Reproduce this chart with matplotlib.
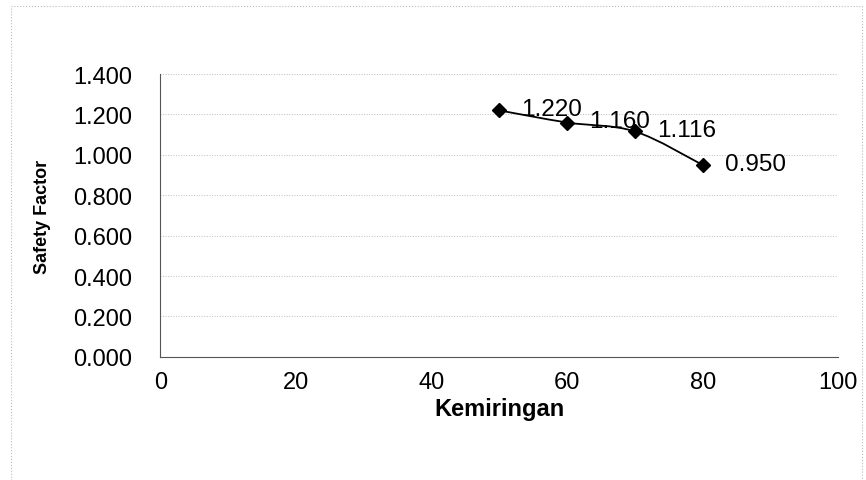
import matplotlib.pyplot as plt
from matplotlib.path import Path
from matplotlib.patches import PathPatch

kemiringan = [50, 60, 70, 80]
safety_factor = [1.220, 1.160, 1.116, 0.950]
point_labels = ['1.220', '1.160', '1.116', '0.950']
x_ticks = [0, 20, 40, 60, 80, 100]
y_ticks = [0.0, 0.2, 0.4, 0.6, 0.8, 1.0, 1.2, 1.4]

plt.rcParams['font.family'] = ['Liberation Sans', 'DejaVu Sans']


# Smoothed line through the points (Catmull-Rom converted to cubic Bezier segments)
def smooth_path(xs, ys, t=1.0 / 6):
    verts = [(xs[0], ys[0])]
    codes = [Path.MOVETO]
    n = len(xs)
    for i in range(n - 1):
        x0, y0 = (xs[i - 1], ys[i - 1]) if i > 0 else (xs[i], ys[i])
        x3, y3 = (xs[i + 2], ys[i + 2]) if i + 2 < n else (xs[i + 1], ys[i + 1])
        c1 = (xs[i] + (xs[i + 1] - x0) * t, ys[i] + (ys[i + 1] - y0) * t)
        c2 = (xs[i + 1] - (x3 - xs[i]) * t, ys[i + 1] - (y3 - ys[i]) * t)
        verts += [c1, c2, (xs[i + 1], ys[i + 1])]
        codes += [Path.CURVE4] * 3
    return Path(verts, codes)


fig = plt.figure(figsize=(8.66, 4.81), dpi=100)
ax = fig.add_axes([0.185, 0.256, 0.783, 0.588])

ax.add_patch(PathPatch(smooth_path(kemiringan, safety_factor), fill=False,
                       edgecolor='black', linewidth=1.3, zorder=3))
ax.plot(kemiringan, safety_factor, linestyle='none', marker='D', markersize=7,
        color='black', zorder=4)

for x, y, s in zip(kemiringan, safety_factor, point_labels):
    ax.annotate(s, (x, y), xytext=(16, 1), textcoords='offset points',
                fontsize=17.5, va='center', ha='left')

ax.set_xlim(0, 100)
ax.set_ylim(0, 1.4)
ax.set_xticks(x_ticks)
ax.set_yticks(y_ticks)
ax.set_yticklabels(['%.3f' % v for v in y_ticks])
ax.tick_params(labelsize=17, length=0)
ax.tick_params(axis='y', pad=20)
ax.tick_params(axis='x', pad=10)

ax.grid(axis='y', color='#bbbbbb', linestyle=':', linewidth=0.7)
for side in ['top', 'right']:
    ax.spines[side].set_visible(False)
ax.spines['left'].set_color('#555555')
ax.spines['bottom'].set_color('#555555')

ax.set_xlabel('Kemiringan', fontsize=17, fontweight='bold', labelpad=3)
ax.set_ylabel('Safety Factor', fontsize=13, fontweight='bold', labelpad=16)

# faint dotted frame around the chart area
fig.patches.append(plt.Rectangle((0.013, -0.01), 0.982, 0.995, transform=fig.transFigure,
                                 fill=False, edgecolor='#bbbbbb', linestyle=':', linewidth=0.8))

fig.savefig('out.png', dpi=100)
